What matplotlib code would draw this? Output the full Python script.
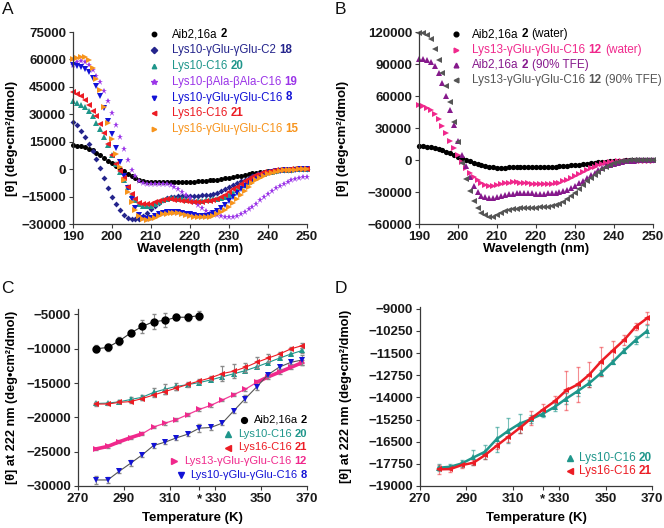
import matplotlib
matplotlib.use("Agg")
import matplotlib.pyplot as plt
from matplotlib.lines import Line2D
from matplotlib.transforms import IdentityTransform
import numpy as np

plt.rcParams["font.family"] = ["Liberation Sans", "DejaVu Sans"]

# ---- panel A / B : CD spectra, 190-250 nm every 1 nm ----
wavelength = list(range(190, 251))

aib2_water = [13000, 12800, 12500, 12000, 11200, 10200, 9000, 7600, 6100, 4600,
              3100, 1600, 200, -1200, -2600, -3900, -5000, -5900, -6600, -7000,
              -7200, -7200, -7100, -7000, -6900, -6800, -6800, -6800, -6800, -6800,
              -6800, -6800, -6700, -6600, -6400, -6200, -6000, -5700, -5400, -5100,
              -4700, -4300, -3900, -3500, -3100, -2700, -2300, -1900, -1600, -1300,
              -1000, -800, -600, -450, -300, -200, -100, -50, 0, 0, 0]
lys10_c2_18 = [26000, 24000, 21000, 17500, 14000, 10000, 5500, 500, -5000, -10500,
               -15000, -19000, -22500, -25000, -26500, -27300, -27500, -27000, -25800, -24000,
               -22000, -20000, -18300, -17000, -16000, -15400, -15000, -14800, -14700, -14600,
               -14600, -14500, -14500, -14400, -14200, -13900, -13500, -12900, -12100, -11100,
               -10000, -8900, -7800, -6700, -5700, -4700, -3800, -3000, -2400, -1900,
               -1400, -1100, -800, -600, -400, -300, -200, -100, 0, 0, 0]
lys10_c16_20 = [37000, 36000, 35000, 34000, 32000, 29000, 25500, 22000, 17500, 13000,
                8000, 3000, -1500, -6000, -10000, -14000, -17000, -19000, -20000, -20300,
                -20000, -19000, -17800, -16800, -16200, -16000, -16000, -16200, -16500, -16800,
                -17000, -17200, -17300, -17200, -17000, -16800, -16500, -16200, -15700, -15000,
                -14000, -12800, -11500, -10000, -8500, -7000, -5600, -4400, -3300, -2500,
                -1800, -1300, -900, -600, -400, -300, -200, -100, 0, 0, 0]
lys10_bala_19 = [57000, 58500, 59000, 58500, 57000, 54000, 51000, 47500, 43000, 37500,
                 30500, 24000, 17500, 11000, 5000, -500, -3500, -6500, -7800, -8200,
                 -8300, -8200, -8000, -8000, -8200, -8800, -9800, -11000, -12500, -14000,
                 -16000, -18000, -19800, -21500, -22800, -23800, -24600, -25200, -25700, -26000,
                 -26100, -26000, -25500, -24600, -23400, -22000, -20500, -18800, -17000, -15300,
                 -13600, -12000, -10500, -9200, -8000, -7000, -6200, -5500, -5000, -4500, -4200]
lys10_gg_c16_8 = [57000, 56500, 56000, 55000, 53000, 50000, 45500, 40000, 33500, 26500,
                  19000, 11500, 4000, -3500, -10500, -16500, -21500, -25000, -26800, -27000,
                  -26500, -25500, -24500, -23800, -23400, -23200, -23200, -23400, -23800, -24300,
                  -24800, -25200, -25500, -25600, -25500, -25000, -24200, -23000, -21500, -19500,
                  -17500, -15200, -13000, -11000, -9000, -7200, -5700, -4400, -3400, -2600,
                  -2000, -1500, -1100, -800, -600, -400, -300, -200, -100, 0, 0]
lys16_c16_21 = [42000, 41000, 40000, 38000, 35000, 32000, 29000, 24500, 19500, 14000,
                8000, 3000, -1000, -5000, -9500, -13500, -16500, -18500, -19200, -19300,
                -18800, -18000, -17200, -16700, -16500, -16500, -16700, -17000, -17300, -17600,
                -17800, -17900, -17900, -17800, -17500, -17300, -17000, -16300, -15300, -14000,
                -12500, -11000, -9500, -8000, -6600, -5300, -4200, -3200, -2400, -1800,
                -1300, -900, -600, -400, -300, -200, -100, 0, 0, 0, 0]
lys16_gg_c16_15 = [60000, 61000, 61500, 61500, 59500, 55500, 49500, 43500, 34000, 25500,
                   16500, 8500, 1000, -6000, -12500, -18000, -22500, -25800, -27500, -28000,
                   -27500, -26500, -25500, -24800, -24300, -24000, -24000, -24200, -24600, -25100,
                   -25600, -26000, -26300, -26400, -26300, -26000, -25500, -24700, -23600, -22200,
                   -20500, -18500, -16300, -14000, -11700, -9500, -7600, -6000, -4600, -3500,
                   -2600, -1900, -1400, -1000, -700, -500, -300, -200, -100, 0, 0]

lys13_water_12 = [51500, 50500, 49000, 46500, 43000, 38000, 31500, 25000, 18000, 11000,
                  4500, -2000, -7500, -12000, -16000, -19000, -21500, -23000, -24000, -24300,
                  -23800, -22800, -21800, -21200, -21000, -21000, -21100, -21400, -21800, -22200,
                  -22500, -22700, -22800, -22700, -22500, -22000, -21200, -20000, -18500, -16800,
                  -15000, -13200, -11300, -9500, -7800, -6300, -5000, -3900, -3000, -2300,
                  -1700, -1300, -1000, -800, -600, -500, -500, -600, -700, -800, -800]
aib2_tfe = [94500, 94500, 94000, 92000, 88500, 82000, 72000, 60000, 47000, 33000,
            18000, 5000, -6000, -16000, -24000, -30000, -33500, -35000, -35500, -35300,
            -34500, -33500, -32500, -31800, -31500, -31300, -31200, -31200, -31300, -31400,
            -31500, -31500, -31500, -31400, -31200, -30800, -30200, -29300, -28000, -26300,
            -24300, -22000, -19500, -17000, -14500, -12000, -9800, -7800, -6000, -4500,
            -3300, -2400, -1700, -1200, -800, -500, -300, -200, -100, 0, 0]
lys13_tfe_12 = [119000, 119000, 117500, 113000, 104000, 94000, 82000, 69000, 54000, 36000,
                17000, -3000, -18000, -29000, -38000, -45000, -49500, -52000, -53000, -53000,
                -52000, -50000, -48000, -46800, -46000, -45500, -45200, -45000, -44900, -44800,
                -44700, -44500, -44200, -43800, -43200, -42300, -41000, -39000, -36500, -33800,
                -30500, -27000, -23500, -20000, -16700, -13600, -10800, -8300, -6300, -4600,
                -3200, -2200, -1400, -800, -400, -100, 0, 200, 300, 300, 200]

# ---- panel C / D : melting curves at 222 nm ----
temperature = [278, 283, 288, 293, 298, 303, 308, 313, 318, 323,
               328, 333, 338, 343, 348, 353, 358, 363, 368]
aib2_melt = [-10000, -9800, -8850, -7700, -6750, -6050, -5850, -5400, -5400, -5150]
aib2_melt_err = [500, 500, 600, 500, 900, 1100, 1000, 400, 500, 600]
c16_20_melt = [-17970, -17915, -17730, -17390, -17070, -16360, -15890, -15480, -15220, -14920,
               -14540, -14075, -13640, -13195, -12630, -12010, -11360, -10760, -10240]
c16_20_err = [200, 150, 200, 400, 400, 700, 700, 550, 250, 200,
              200, 300, 300, 200, 150, 100, 150, 200, 350]
c16_21_melt = [-18060, -18045, -17820, -17690, -17260, -16735, -16230, -15725, -15180, -14690,
               -14225, -13610, -13270, -12710, -11980, -11360, -10760, -10010, -9525]
c16_21_err = [250, 150, 150, 150, 200, 150, 300, 300, 400, 300,
              300, 1100, 1000, 700, 800, 550, 300, 200, 350]
lys13_melt = [-24590, -24230, -23560, -22950, -22400, -21400, -20840, -20310, -19580, -18830,
              -18250, -17470, -16690, -15910, -14900, -14100, -13400, -12700, -12000]
lys13_err = [200, 200, 200, 200, 200, 200, 200, 200, 200, 200,
             200, 200, 200, 200, 300, 300, 300, 300, 300]
gg_c16_8_melt = [-29120, -29120, -27850, -26680, -25470, -24100, -23610, -22980, -22440, -21570,
                 -21470, -20840, -19040, -17280, -15570, -13770, -12650, -11970, -11620]
gg_c16_8_err = [600, 500, 300, 400, 300, 300, 200, 300, 300, 600,
                300, 300, 300, 500, 500, 300, 300, 300, 700]

temp_ticks = [270, 290, 310, 323, 330, 350, 370]
temp_labels = ["270", "290", "310", "*", "330", "350", "370"]

BLACK = "#000000"
NAVY = "#24248c"
TEAL = "#1f968b"
VIOLET = "#9b35e8"
BLUE = "#1212d6"
RED = "#ec1c24"
ORANGE = "#f7941d"
PINK = "#f0288c"
PURPLE = "#86198c"
GRAY = "#555555"
SPINE = "#3a3a3a"

W, H = 664, 528
fig = plt.figure(figsize=(W / 100, H / 100), dpi=100)


def axes_px(left, top, right, bottom):
    return fig.add_axes([left / W, 1 - bottom / H, (right - left) / W, (bottom - top) / H])


def style(ax):
    for s in ["top", "right"]:
        ax.spines[s].set_visible(False)
    for s in ["left", "bottom"]:
        ax.spines[s].set_linewidth(0.9)
        ax.spines[s].set_color(SPINE)
    ax.tick_params(direction="out", length=3, width=0.8, color=SPINE,
                   labelsize=9.5, labelcolor="#1a1a1a", pad=2)
    for lab in ax.get_xticklabels() + ax.get_yticklabels():
        lab.set_fontweight("bold")


renderer = fig.canvas.get_renderer()


def legend_row(y, mx, tx, marker, color, pieces, size, ms, align="left"):
    """Marker + text built from (string, weight) pieces, in image pixels."""
    yd = H - y
    gap = 0.278 * size * 100 / 72
    if align == "left":
        cur = tx
        for s, w in pieces:
            t = fig.text(cur, yd, s, transform=IdentityTransform(), ha="left",
                         va="center", fontsize=size, fontweight=w, color=color)
            cur = t.get_window_extent(renderer).x1 + gap
    else:
        cur = tx
        for s, w in reversed(pieces):
            t = fig.text(cur, yd, s, transform=IdentityTransform(), ha="right",
                         va="center", fontsize=size, fontweight=w, color=color)
            cur = t.get_window_extent(renderer).x0 - gap
        mx = cur + gap - mx
    fig.add_artist(Line2D([mx], [yd], marker=marker, color=color, ms=ms,
                          linestyle="none", transform=IdentityTransform()))


def labels(ax, xlabel, ylabel, xy, yx, yy, ysize):
    ax.set_xlabel(xlabel, fontsize=9.5, fontweight="bold")
    ax.xaxis.set_label_coords(0.5, xy)
    ax.set_ylabel(ylabel, fontsize=ysize, fontweight="bold")
    ax.yaxis.set_label_coords(yx, yy)


# ---------------- A ----------------
axA = axes_px(73, 32, 307, 224)
series_a = [
    (aib2_water, "o", BLACK, 3.6),
    (lys10_c2_18, "D", NAVY, 3.0),
    (lys10_c16_20, "^", TEAL, 3.8),
    (lys10_bala_19, "*", VIOLET, 4.8),
    (lys10_gg_c16_8, "v", BLUE, 3.8),
    (lys16_c16_21, "<", RED, 3.8),
    (lys16_gg_c16_15, ">", ORANGE, 3.8),
]
for vals, m, c, ms in series_a:
    axA.plot(wavelength, vals, linestyle="none", marker=m, color=c, ms=ms,
             markeredgewidth=0, clip_on=False)
axA.set_xlim(190, 250)
axA.set_ylim(-30000, 75000)
axA.set_xticks(range(190, 251, 10))
axA.set_yticks(range(-30000, 75001, 15000))
style(axA)
labels(axA, "Wavelength (nm)", "[θ] (deg•cm²/dmol)", -0.1, -0.235, 0.445, 9.5)

leg_a = [
    ("o", BLACK, [("Aib2,16a", "normal"), ("2", "bold")]),
    ("D", NAVY, [("Lys10-γGlu-γGlu-C2", "normal"), ("18", "bold")]),
    ("^", TEAL, [("Lys10-C16", "normal"), ("20", "bold")]),
    ("*", VIOLET, [("Lys10-βAla-βAla-C16", "normal"), ("19", "bold")]),
    ("v", BLUE, [("Lys10-γGlu-γGlu-C16", "normal"), ("8", "bold")]),
    ("<", RED, [("Lys16-C16", "normal"), ("21", "bold")]),
    (">", ORANGE, [("Lys16-γGlu-γGlu-C16", "normal"), ("15", "bold")]),
]
for i, (m, c, p) in enumerate(leg_a):
    legend_row(34.3 + i * 15.8, 154, 172, m, c, p, 8.3, 4.0 if m == "*" else 3.2)

# ---------------- B ----------------
axB = axes_px(419, 32, 653, 224)
series_b = [
    (aib2_water, "o", BLACK),
    (lys13_water_12, ">", PINK),
    (aib2_tfe, "^", PURPLE),
    (lys13_tfe_12, "<", GRAY),
]
for vals, m, c in series_b:
    axB.plot(wavelength, vals, linestyle="none", marker=m, color=c, ms=3.8,
             markeredgewidth=0, clip_on=False)
axB.set_xlim(190, 250)
axB.set_ylim(-60000, 120000)
axB.set_xticks(range(190, 251, 10))
axB.set_yticks(range(-60000, 120001, 30000))
style(axB)
labels(axB, "Wavelength (nm)", "[θ] (deg•cm²/dmol)", -0.1, -0.299, 0.445, 9.5)

leg_b = [
    ("o", BLACK, [("Aib2,16a", "normal"), ("2", "bold"), ("(water)", "normal")]),
    (">", PINK, [("Lys13-γGlu-γGlu-C16", "normal"), ("12", "bold"), ("(water)", "normal")]),
    ("^", PURPLE, [("Aib2,16a", "normal"), ("2", "bold"), ("(90% TFE)", "normal")]),
    ("<", GRAY, [("Lys13-γGlu-γGlu-C16", "normal"), ("12", "bold"), ("(90% TFE)", "normal")]),
]
for i, (m, c, p) in enumerate(leg_b):
    legend_row(34.3 + i * 15.3, 456, 472, m, c, p, 8.5, 3.4)

# ---------------- C ----------------
axC = axes_px(78, 309, 307, 486)
ecol = "#8a8a8a"
axC.errorbar(temperature[:len(aib2_melt)], aib2_melt, yerr=aib2_melt_err, fmt="none",
             ecolor=ecol, elinewidth=0.8, capsize=1.5)
axC.plot(temperature[:len(aib2_melt)], aib2_melt, color="#333333", lw=0.8,
         marker="o", ms=5, mfc=BLACK, mec=BLACK)
axC.errorbar(temperature, c16_20_melt, yerr=c16_20_err, fmt="none",
             ecolor=ecol, elinewidth=0.8, capsize=1.5)
axC.plot(temperature, c16_20_melt, color=TEAL, lw=0.8, marker="^", ms=5,
         markeredgewidth=0)
axC.errorbar(temperature, c16_21_melt, yerr=c16_21_err, fmt="none",
             ecolor=ecol, elinewidth=0.8, capsize=1.5)
axC.plot(temperature, c16_21_melt, color=RED, lw=0.8, marker="<", ms=5,
         markeredgewidth=0)
axC.errorbar(temperature, lys13_melt, yerr=lys13_err, fmt="none",
             ecolor=ecol, elinewidth=0.8, capsize=1.5)
axC.plot(temperature, lys13_melt, color=PINK, lw=0.9, alpha=0.9)
axC.plot(temperature[:5], lys13_melt[:5], color=PINK, lw=2.6)
axC.plot(temperature[-5:], lys13_melt[-5:], color=PINK, lw=2.6)
axC.plot(temperature, lys13_melt, linestyle="none", marker=">", ms=5, color=PINK,
         markeredgewidth=0)
axC.errorbar(temperature, gg_c16_8_melt, yerr=gg_c16_8_err, fmt="none",
             ecolor=ecol, elinewidth=0.8, capsize=1.5)
axC.plot(temperature, gg_c16_8_melt, color="#555555", lw=0.8)
axC.plot(temperature, gg_c16_8_melt, linestyle="none", marker="v", ms=5, color=BLUE,
         markeredgewidth=0)
axC.set_xlim(270, 370)
axC.set_ylim(-30000, -4200)
axC.set_xticks(temp_ticks)
axC.set_xticklabels(temp_labels)
axC.set_yticks(range(-30000, -4999, 5000))
style(axC)
labels(axC, "Temperature (K)", "[θ] at 222 nm (deg•cm²/dmol)", -0.147, -0.262, 0.5, 9.2)

leg_c = [
    ("o", BLACK, [("Aib2,16a", "normal"), ("2", "bold")]),
    ("^", TEAL, [("Lys10-C16", "normal"), ("20", "bold")]),
    ("<", RED, [("Lys16-C16", "normal"), ("21", "bold")]),
    (">", PINK, [("Lys13-γGlu-γGlu-C16", "normal"), ("12", "bold")]),
    ("v", BLUE, [("Lys10-γGlu-γGlu-C16", "normal"), ("8", "bold")]),
]
for i, (m, c, p) in enumerate(leg_c):
    legend_row(420 + i * 13.75, 10, 307, m, c, p, 8.0, 4.2, align="right")

# ---------------- D ----------------
axD = axes_px(420, 307, 652, 486)
axD.errorbar(temperature, c16_20_melt, yerr=c16_20_err, fmt="none",
             ecolor=TEAL, alpha=0.6, elinewidth=0.8, capsize=1.5)
axD.errorbar(temperature, c16_21_melt, yerr=c16_21_err, fmt="none",
             ecolor=RED, alpha=0.5, elinewidth=0.8, capsize=1.5)
axD.plot(temperature, c16_20_melt, color=TEAL, lw=1.8, marker="^", ms=4.5,
         markeredgewidth=0)
axD.plot(temperature, c16_21_melt, color=RED, lw=1.8, marker="<", ms=4.5,
         markeredgewidth=0)
axD.set_xlim(270, 370)
axD.set_ylim(-19000, -8900)
axD.set_xticks(temp_ticks)
axD.set_xticklabels(temp_labels)
axD.set_yticks([-19000, -17750, -16500, -15250, -14000, -12750, -11500, -10250, -9000])
style(axD)
labels(axD, "Temperature (K)", "[θ] at 222 nm (deg•cm²/dmol)", -0.147, -0.293, 0.5, 9.2)

leg_d = [
    ("^", TEAL, [("Lys10-C16", "normal"), ("20", "bold")]),
    ("<", RED, [("Lys16-C16", "normal"), ("21", "bold")]),
]
for i, (m, c, p) in enumerate(leg_d):
    legend_row(458 + i * 13.3, 9, 652, m, c, p, 8.5, 4.2, align="right")

# panel letters
for letter, x, y in [("A", 2, 2), ("B", 335, 2), ("C", 1, 281), ("D", 335, 281)]:
    fig.text(x, H - y, letter, transform=IdentityTransform(), ha="left", va="top",
             fontsize=12.5, fontweight="normal", color="#111111")

fig.savefig("out.png", dpi=100)
